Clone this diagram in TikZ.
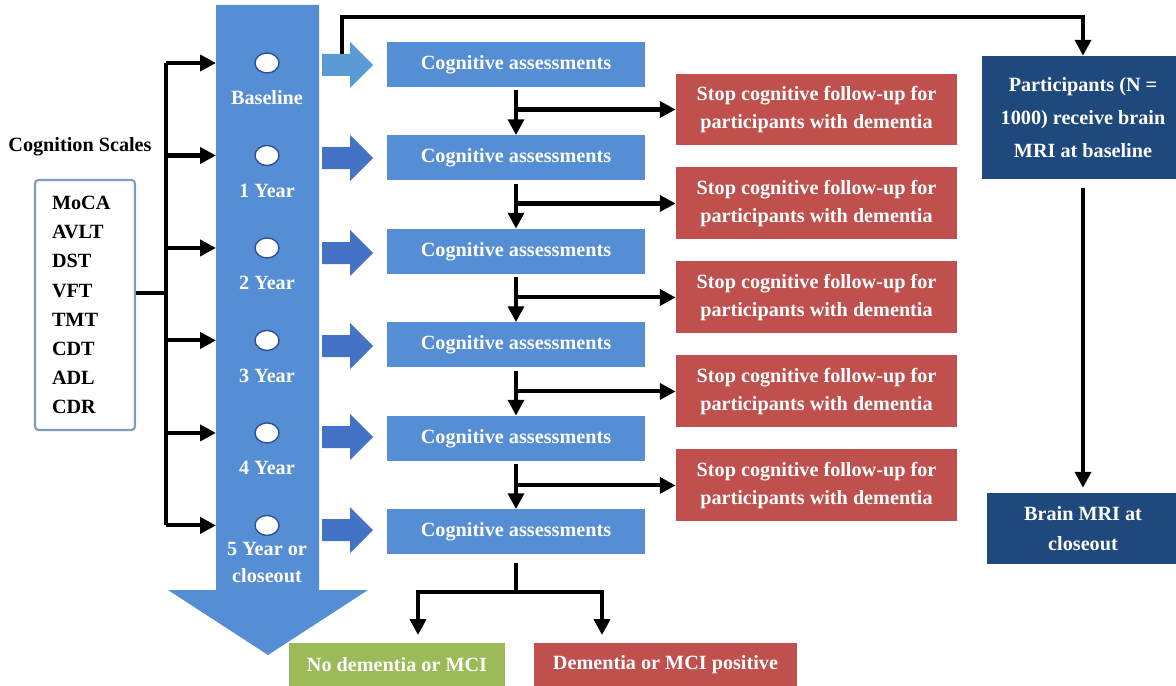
\documentclass[tikz,border=0pt]{standalone}
\usepackage{fontspec}
\setmainfont{Liberation Serif}
\usepackage{tikz}
\usetikzlibrary{arrows.meta,shapes.geometric,positioning}

\definecolor{bigblue}{RGB}{85,142,213}
\definecolor{lightarrow}{RGB}{91,155,213}
\definecolor{darkarrow}{RGB}{68,114,196}
\definecolor{stopred}{RGB}{192,80,77}
\definecolor{okgreen}{RGB}{155,187,89}
\definecolor{mrinavy}{RGB}{31,73,125}
\definecolor{ringblue}{RGB}{47,82,143}
\definecolor{scaleframe}{RGB}{127,155,190}

\newcommand{\boldtext}{\fontsize{11.5}{16}\selectfont\bfseries}

\begin{document}
\begin{tikzpicture}[x=0.02cm,y=-0.02cm,
                font=\boldtext,
                cogbox/.style = {fill=bigblue, text=white, minimum width=5.16cm, minimum height=0.9cm, inner sep=0pt},
                stopbox/.style = {fill=stopred, text=white, minimum width=5.62cm, minimum height=1.44cm, align=center, inner sep=0pt},
                mribox/.style = {fill=mrinavy, text=white, align=center, inner sep=0pt},
                visit/.style = {ellipse, draw=ringblue, line width=0.8pt, fill=white, minimum width=0.48cm, minimum height=0.4cm, inner sep=0pt},
                visitlbl/.style = {text=white, align=center, inner sep=0pt},
                line/.style = {line width=2.3pt, color=black},
                arr/.style = {line, -{Triangle[width=9pt,length=9pt]}}]
                \useasboundingbox (0,0) rectangle (1176,686);

                % time axis
                \fill[bigblue] (216,5) -- (319,5) -- (319,590) -- (368,590) -- (268,655) -- (168,590) -- (216,590) -- cycle;
                \coordinate (shaftL) at (216,0);
                \coordinate (trunk) at (166,0);

                \node[visit] (v0) at (267,63) {};
                \node[visit, node distance=1.85cm] (v1) [below of=v0] {};
                \node[visit, node distance=1.85cm] (v2) [below of=v1] {};
                \node[visit, node distance=1.85cm] (v3) [below of=v2] {};
                \node[visit, node distance=1.85cm] (v4) [below of=v3] {};
                \node[visit, node distance=1.85cm] (v5) [below of=v4] {};
                \node[visitlbl, node distance=0.7cm] (l0) [below of=v0] {Baseline};
                \node[visitlbl, node distance=0.7cm] (l1) [below of=v1] {1 Year};
                \node[visitlbl, node distance=0.7cm] (l2) [below of=v2] {2 Year};
                \node[visitlbl, node distance=0.7cm] (l3) [below of=v3] {3 Year};
                \node[visitlbl, node distance=0.7cm] (l4) [below of=v4] {4 Year};
                \node[visitlbl, node distance=0.74cm, font=\fontsize{11.5}{15}\selectfont\bfseries] (l5) [below of=v5] {5 Year or\\closeout};

                % block arrows
                \fill[lightarrow] (322,54) -- (350,54) -- (350,42) -- (373,65) -- (350,88) -- (350,76) -- (322,76) -- cycle;
                \foreach \y in {158,253,346,437,530}
                    \fill[darkarrow] (322,\y-11) -- (350,\y-11) -- (350,\y-23) -- (373,\y) -- (350,\y+23) -- (350,\y+11) -- (322,\y+11) -- cycle;
                \coordinate (ba0) at (342,54);

                % scales
                \node (title) at (80,147) {Cognition Scales};
                \node[draw=scaleframe, line width=1.2pt, rounded corners=2pt, minimum height=5cm, text width=1.32cm, inner xsep=0.34cm,
                      align=left, font=\fontsize{11.5}{16.6}\selectfont\bfseries] (scales) at (85,305)
                      {MoCA\\AVLT\\DST\\VFT\\TMT\\CDT\\ADL\\CDR};

                % assessments
                \node[cogbox] (c1) at (516,64.5) {Cognitive assessments};
                \node[cogbox, node distance=1.87cm] (c2) [below of=c1] {Cognitive assessments};
                \node[cogbox, node distance=1.87cm] (c3) [below of=c2] {Cognitive assessments};
                \node[cogbox, node distance=1.87cm] (c4) [below of=c3] {Cognitive assessments};
                \node[cogbox, node distance=1.87cm] (c5) [below of=c4] {Cognitive assessments};
                \node[cogbox, node distance=1.87cm] (c6) [below of=c5] {Cognitive assessments};

                \node[stopbox] (s1) at (816.5,109.5) {Stop cognitive follow-up for\\participants with dementia};
                \node[stopbox, node distance=1.88cm] (s2) [below of=s1] {Stop cognitive follow-up for\\participants with dementia};
                \node[stopbox, node distance=1.88cm] (s3) [below of=s2] {Stop cognitive follow-up for\\participants with dementia};
                \node[stopbox, node distance=1.88cm] (s4) [below of=s3] {Stop cognitive follow-up for\\participants with dementia};
                \node[stopbox, node distance=1.88cm] (s5) [below of=s4] {Stop cognitive follow-up for\\participants with dementia};

                % MRI
                \node[mribox, minimum width=4.04cm, minimum height=2.46cm, font=\fontsize{11.5}{19}\selectfont\bfseries] (mri1) at (1083,117.5)
                      {Participants (N =\\1000) receive brain\\MRI at baseline};
                \node[mribox, minimum width=3.84cm, minimum height=1.42cm, font=\fontsize{11.5}{17}\selectfont\bfseries] (mri2) at (1083,528.5)
                      {Brain MRI at\\closeout};

                % outcomes
                \node[fill=okgreen, text=white, minimum width=4.32cm, minimum height=0.88cm, inner sep=0pt] (nd) at (397,665) {No dementia or MCI};
                \node[fill=stopred, text=white, minimum width=5.26cm, minimum height=0.88cm, inner sep=0pt] (dp) at (665.5,665) {Dementia or MCI positive};
                \coordinate (nodm) at (418,635);
                \coordinate (dmpos) at (602,635);

                % connectors
                \draw[line] ([yshift=0.24cm]scales.east) -- ([yshift=0.24cm]scales.east -| trunk);
                \draw[line] (trunk |- v0) -- (trunk |- v5);
                \foreach \v in {v0,v1,v2,v3,v4,v5}
                    \draw[arr] (trunk |- \v) -- (shaftL |- \v);
                \foreach \a/\b in {c1/c2,c2/c3,c3/c4,c4/c5,c5/c6}
                    \draw[arr, shorten <=0.06cm] (\a.south) -- (\b.north);
                \foreach \a/\s in {c1/s1,c2/s2,c3/s3,c4/s4,c5/s5}
                    \draw[arr] (\s.west -| \a.south) -- (\s.west);
                \draw[arr] (ba0) -- ++(0,-37) -| (mri1.north);
                \draw[arr, shorten <=0.18cm, shorten >=0.1cm] (mri1.south) -- (mri2.north);
                \draw[line, shorten <=0.16cm] (c6.south) -- ++(0,37) coordinate (split);
                \draw[arr] (split) -| (nodm);
                \draw[arr] (split) -| (dmpos);
            \end{tikzpicture}
\end{document}
